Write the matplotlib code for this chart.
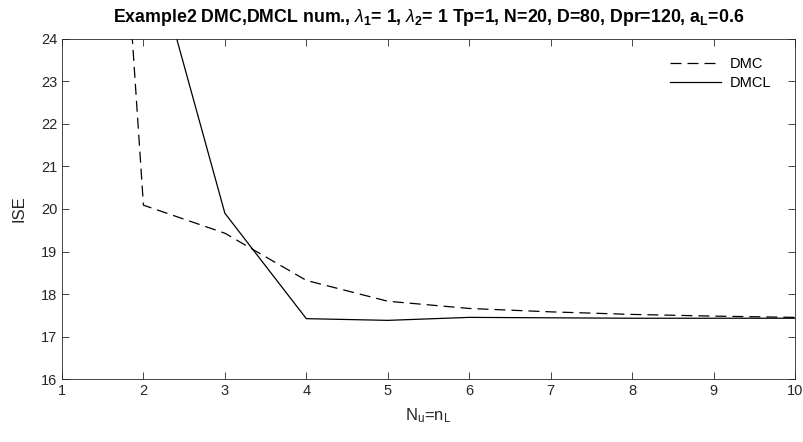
import matplotlib
matplotlib.use("Agg")
import matplotlib.pyplot as plt

plt.rcParams['font.family'] = ['Liberation Sans', 'DejaVu Sans']
plt.rcParams['mathtext.fontset'] = 'custom'
plt.rcParams['mathtext.rm'] = 'Liberation Sans'
plt.rcParams['mathtext.it'] = 'Liberation Sans:italic'
plt.rcParams['mathtext.bf'] = 'Liberation Sans:bold'

# data
nu = [1, 2, 3, 4, 5, 6, 7, 8, 9, 10]
dmc = [48.8, 20.09, 19.43, 18.32, 17.83, 17.66, 17.58, 17.52, 17.48, 17.45]
dmcl = [40.0, 26.84, 19.9, 17.42, 17.38, 17.45, 17.44, 17.43, 17.43, 17.43]
xticks = list(range(1, 11))
yticks = list(range(16, 25))


def main():
    fig = plt.figure(figsize=(8.04, 4.42), dpi=100)
    ax = fig.add_axes([0.0771, 0.1425, 0.9117, 0.7693])

    ax.plot(nu, dmc, color='black', linestyle=(0, (8.8, 4.8)), linewidth=0.9, label='DMC')
    ax.plot(nu, dmcl, color='black', linestyle='-', linewidth=0.9, label='DMCL')

    ax.set_xlim(1, 10)
    ax.set_ylim(16, 24)
    ax.set_xticks(xticks)
    ax.set_yticks(yticks)

    edge = '#262626'
    for s in ax.spines.values():
        s.set_color(edge)
        s.set_linewidth(0.6)
    ax.tick_params(direction='in', length=5, width=0.6, color=edge,
                   labelcolor=edge, labelsize=10.5, top=True, right=True)

    ax.set_xlabel(r'N$_\mathregular{u}$=n$_\mathregular{L}$', fontsize=12, color=edge, labelpad=6)
    ax.set_ylabel('ISE', fontsize=12, color=edge, labelpad=10)
    ax.set_title(r'Example2 DMC,DMCL num., $\lambda_\mathbf{1}$= 1, $\lambda_\mathbf{2}$= 1 Tp=1, N=20, D=80, Dpr=120, a$_\mathbf{L}$=0.6',
                 fontsize=12.8, fontweight='bold', pad=12)

    ax.legend(loc='upper right', frameon=False, fontsize=10.5,
              handlelength=3.5, handletextpad=0.6,
              bbox_to_anchor=(0.985, 0.985), labelspacing=0.35)

    fig.savefig('out.png', dpi=100)


if __name__ == "__main__":
    main()
